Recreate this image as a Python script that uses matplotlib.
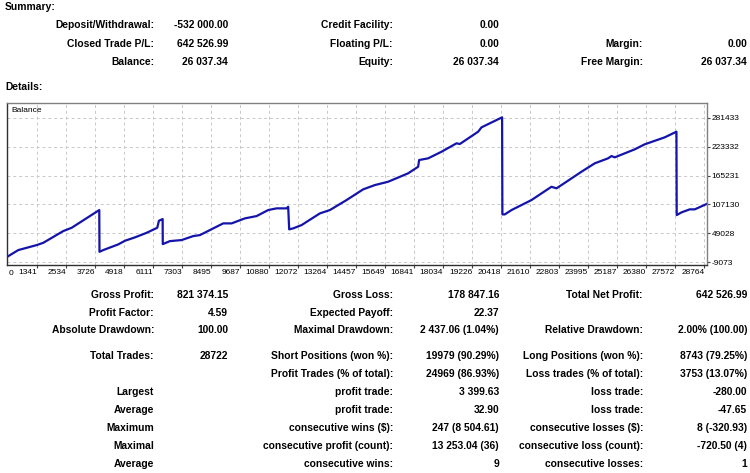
import matplotlib
matplotlib.use("Agg")
import matplotlib.pyplot as plt

# ---------------- data ----------------
summary_col1_labels = ["Deposit/Withdrawal:", "Closed Trade P/L:", "Balance:"]
summary_col1_values = ["-532 000.00", "642 526.99", "26 037.34"]
summary_col2_labels = ["Credit Facility:", "Floating P/L:", "Equity:"]
summary_col2_values = ["0.00", "0.00", "26 037.34"]
summary_col3_labels = ["", "Margin:", "Free Margin:"]
summary_col3_values = ["", "0.00", "26 037.34"]

details_col1_labels = ["Gross Profit:", "Profit Factor:", "Absolute Drawdown:", "Total Trades:", "",
                       "Largest", "Average", "Maximum", "Maximal", "Average"]
details_col1_values = ["821 374.15", "4.59", "100.00", "28722", "", "", "", "", "", ""]
details_col2_labels = ["Gross Loss:", "Expected Payoff:", "Maximal Drawdown:", "Short Positions (won %):",
                       "Profit Trades (% of total):", "profit trade:", "profit trade:",
                       "consecutive wins ($):", "consecutive profit (count):", "consecutive wins:"]
details_col2_values = ["178 847.16", "22.37", "2 437.06 (1.04%)", "19979 (90.29%)", "24969 (86.93%)",
                       "3 399.63", "32.90", "247 (8 504.61)", "13 253.04 (36)", "9"]
details_col3_labels = ["Total Net Profit:", "", "Relative Drawdown:", "Long Positions (won %):",
                       "Loss trades (% of total):", "loss trade:", "loss trade:",
                       "consecutive losses ($):", "consecutive loss (count):", "consecutive losses:"]
details_col3_values = ["642 526.99", "", "2.00% (100.00)", "8743 (79.25%)", "3753 (13.07%)",
                       "-280.00", "-47.65", "8 (-320.93)", "-720.50 (4)", "1"]

trade_no = [130, 585, 1340, 1611, 2433, 2778, 3911, 3920, 4075, 4691, 4966, 5377, 5857, 6292, 6362,
            6514, 6520, 6814, 7294, 7770, 8046, 9002, 9347, 9893, 10374, 10850, 11195, 11606, 11671,
            11712, 11876, 12221, 12973, 13384, 14069, 14751, 15231, 15777, 16598, 17009, 17050, 17420,
            17970, 18586, 18721, 19473, 19613, 20458, 20470, 20570, 20845, 21665, 22076, 22487, 22692,
            23102, 23718, 24264, 24810, 24950, 25085, 25907, 26317, 27138, 27619, 27630, 27825, 28166,
            28371, 28851]
balance = [2000, 15500, 25500, 30100, 53700, 60300, 95900, 12000, 15500, 26900, 34200, 41000, 50200,
           60300, 74400, 77800, 27500, 33500, 35600, 43600, 45600, 69100, 69100, 79200, 83800, 95900,
           99300, 99300, 102500, 57100, 59100, 65700, 89200, 95900, 116000, 137500, 146100, 152800,
           169700, 182900, 196400, 199800, 213100, 230000, 228600, 253300, 262100, 282200, 87200,
           87200, 95900, 116000, 129400, 142700, 139500, 152800, 172900, 189800, 199800, 204400,
           201800, 217900, 228000, 242000, 253300, 85800, 91200, 97300, 97300, 107900]

x_tick_values = [1341, 2534, 3726, 4918, 6111, 7303, 8495, 9687, 10880, 12072, 13264, 14457, 15649,
                 16841, 18034, 19226, 20418, 21610, 22803, 23995, 25187, 26380, 27572, 28764]
x_first_label = "0"
y_tick_values = [-9073, 49028, 107130, 165231, 223332, 281433]

# ---------------- figure ----------------
W, H = 750, 473
fig = plt.figure(figsize=(W / 100, H / 100), dpi=100)
fig.patch.set_facecolor("white")

BOLD = dict(family=["Liberation Sans", "DejaVu Sans"], fontweight="bold", fontsize=7.4, color="black")
SMALL = dict(family=["Liberation Sans", "DejaVu Sans"], fontsize=6.0, color="black")


def put(x, y, s, ha, **kw):
    if s:
        fig.text(x / W, 1 - y / H, s, ha=ha, va="center", **kw)


# headers
put(5, 7, "Summary:", "left", **BOLD)
put(5, 87, "Details:", "left", **BOLD)

label_right = [154, 393, 643]
value_right = [228, 499, 747]

summary_rows_y = [25, 44, 62]
summary_cols = [(summary_col1_labels, summary_col1_values),
                (summary_col2_labels, summary_col2_values),
                (summary_col3_labels, summary_col3_values)]
for c, (labs, vals) in enumerate(summary_cols):
    for y, lab, val in zip(summary_rows_y, labs, vals):
        put(label_right[c], y, lab, "right", **BOLD)
        put(value_right[c], y, val, "right", **BOLD)

details_rows_y = [295, 313, 330, 356, 374, 392, 410, 428, 446, 464]
details_cols = [(details_col1_labels, details_col1_values),
                (details_col2_labels, details_col2_values),
                (details_col3_labels, details_col3_values)]
for c, (labs, vals) in enumerate(details_cols):
    for y, lab, val in zip(details_rows_y, labs, vals):
        put(label_right[c], y, lab, "right", **BOLD)
        put(value_right[c], y, val, "right", **BOLD)

# ---------------- chart ----------------
ax_left, ax_right, ax_top, ax_bottom = 7, 706.5, 103, 265
ax = fig.add_axes([ax_left / W, 1 - ax_bottom / H, (ax_right - ax_left) / W, (ax_bottom - ax_top) / H])
ax.set_facecolor("white")

ax.plot(trade_no, balance, color="#1414aa", linewidth=1.6, solid_joinstyle="round")

ax.set_xlim(121, 28854)
ax.set_ylim(-14500, 311000)

ax.set_xticks(x_tick_values)
ax.set_xticklabels([str(v) for v in x_tick_values], ha="right", **SMALL)
ax.set_yticks(y_tick_values)
ax.set_yticklabels([str(v) for v in y_tick_values], **SMALL)
ax.yaxis.tick_right()
ax.tick_params(axis="x", length=2, width=0.8, pad=1.0, color="#404040")
ax.tick_params(axis="y", length=2, width=0.8, pad=1.5, color="#404040")
ax.text(0.002, -0.03, x_first_label, transform=ax.transAxes, ha="left", va="top", **SMALL)

ax.grid(True, color="#c8c8c8", linestyle=(0, (3, 3)), linewidth=0.7)
ax.set_axisbelow(True)

for side in ["left", "bottom"]:
    ax.spines[side].set_color("#303030")
    ax.spines[side].set_linewidth(1.0)
for side in ["top", "right"]:
    ax.spines[side].set_color("#808080")
    ax.spines[side].set_linewidth(1.0)

ax.text(0.006, 0.975, "Balance", transform=ax.transAxes, ha="left", va="top", **SMALL)

fig.savefig("out.png", dpi=100, facecolor="white")
